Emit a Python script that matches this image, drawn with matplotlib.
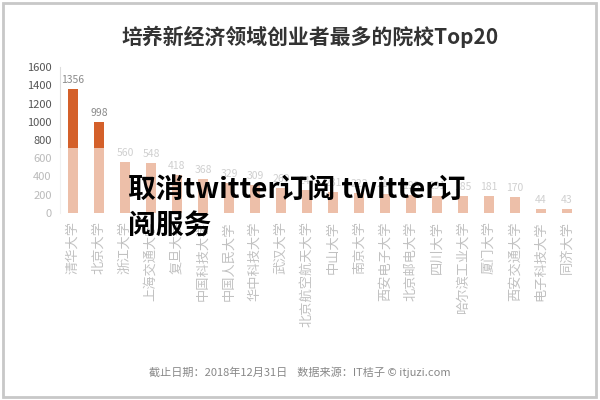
import matplotlib
matplotlib.use("Agg")
import matplotlib.pyplot as plt
from matplotlib.patches import Rectangle

plt.rcParams["font.family"] = ["Noto Sans CJK SC", "DejaVu Sans"]

# datos (IT桔子, top 20 universidades)
universidades = ["清华大学", "北京大学", "浙江大学", "上海交通大学", "复旦大学",
                 "中国科技大学", "中国人民大学", "华中科技大学", "武汉大学",
                 "北京航空航天大学", "中山大学", "南京大学", "西安电子大学",
                 "北京邮电大学", "四川大学", "哈尔滨工业大学", "厦门大学",
                 "西安交通大学", "电子科技大学", "同济大学"]
creadores = [1356, 998, 560, 548, 418, 368, 329, 309, 269, 247,
             231, 222, 213, 198, 191, 185, 181, 170, 44, 43]
yticks = [0, 200, 400, 600, 800, 1000, 1200, 1400, 1600]

BAR = "#d4602a"
GRIS = "#8a8a8a"

fig = plt.figure(figsize=(6, 4), dpi=100)
ax = fig.add_axes([60 / 600, 1 - 213 / 400, 520 / 600, 146 / 400])

x = list(range(len(universidades)))
ax.bar(x, creadores, width=0.4, color=BAR, zorder=2)
for xi, v in zip(x, creadores):
    ax.text(xi, v + 45, str(v), ha="center", va="bottom", fontsize=7.5,
            color=GRIS, clip_on=False)

ax.set_xlim(-0.5, len(universidades) - 0.5)
ax.set_ylim(0, 1600)
ax.set_yticks(yticks)
ax.set_yticklabels([str(t) for t in yticks], fontsize=8, color="#555555")
ax.set_xticks(x)
ax.set_xticklabels(universidades, rotation=90, fontsize=9.5, color="#666666",
                   ha="center", va="top")
ax.tick_params(length=0, pad=6)
for s in ("top", "right", "bottom"):
    ax.spines[s].set_visible(False)
ax.spines["left"].set_color("#dddddd")

# titulo y pie
fig.text(0.517, 1 - 37 / 400, "培养新经济领域创业者最多的院校Top20", ha="center",
         va="center", fontsize=15, fontweight="bold", color="#333333")
fig.text(0.5, 1 - 372 / 400,
         "截止日期：2018年12月31日    数据来源：IT桔子 © itjuzi.com",
         ha="center", va="center", fontsize=8, color="#888888")

# marco gris de la captura
fig.patches.append(Rectangle((3 / 600, 3 / 400), 593 / 600, 394 / 400,
                             transform=fig.transFigure, fill=False,
                             edgecolor="#c8c8c8", lw=2))

# banda blanca semitransparente bajo el texto superpuesto
fig.patches.append(Rectangle((5 / 600, 1 - 360 / 400), 585 / 600, 212 / 400,
                             transform=fig.transFigure, facecolor="white",
                             edgecolor="none", alpha=0.6, zorder=5))
fig.text(128 / 600, 1 - 190 / 400, "取消twitter订阅 twitter订", ha="left",
         va="center", fontsize=20, fontweight="heavy", color="#000000", zorder=6)
fig.text(128 / 600, 1 - 226 / 400, "阅服务", ha="left",
         va="center", fontsize=20, fontweight="heavy", color="#000000", zorder=6)

fig.savefig("out.png", dpi=100)
